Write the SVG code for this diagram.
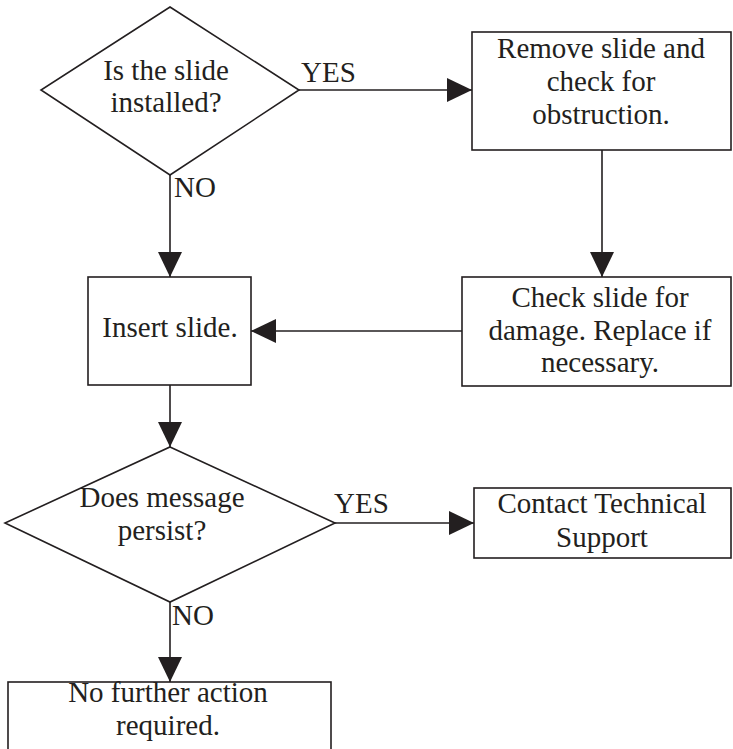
<svg xmlns="http://www.w3.org/2000/svg" width="733" height="749" viewBox="0 0 733 749">
<style>
.shape{fill:#fff;stroke:#231f20;stroke-width:1.6}
.conn{fill:none;stroke:#231f20;stroke-width:1.6}
text{font-family:"Liberation Serif","Times New Roman",serif;font-size:29px;fill:#231f20}
.c{text-anchor:middle}
</style>
<defs>
<marker id="arr" viewBox="0 0 25 24" refX="25" refY="12" markerWidth="25" markerHeight="24" markerUnits="userSpaceOnUse" orient="auto">
<path d="M0,0 L25,12 L0,24 Z" fill="#231f20"/>
</marker>
</defs>
<rect width="733" height="749" fill="#fff"/>
<g id="connectors">
<line class="conn" x1="299" y1="90" x2="472" y2="90" marker-end="url(#arr)"/>
<line class="conn" x1="170" y1="175" x2="170" y2="277" marker-end="url(#arr)"/>
<line class="conn" x1="602" y1="150" x2="602" y2="277" marker-end="url(#arr)"/>
<line class="conn" x1="462" y1="331" x2="251" y2="331" marker-end="url(#arr)"/>
<line class="conn" x1="170" y1="385" x2="170" y2="447" marker-end="url(#arr)"/>
<line class="conn" x1="335" y1="523" x2="474" y2="523" marker-end="url(#arr)"/>
<line class="conn" x1="170" y1="602" x2="170" y2="682" marker-end="url(#arr)"/>
<text x="301" y="82">YES</text>
<text x="174" y="197">NO</text>
<text x="334" y="513">YES</text>
<text x="172" y="625">NO</text>
</g>
<g id="q1">
<polygon class="shape" points="170,7 299,90 170,175 41,90"/>
<text class="c" x="166" y="80">Is the slide</text>
<text class="c" x="166" y="112">installed?</text>
</g>
<g id="remove">
<rect class="shape" x="472" y="32" width="259" height="118"/>
<text class="c" x="601" y="58">Remove slide and</text>
<text class="c" x="601" y="91">check for</text>
<text class="c" x="601" y="124">obstruction.</text>
</g>
<g id="check">
<rect class="shape" x="462" y="277" width="269" height="109"/>
<text class="c" x="600" y="307">Check slide for</text>
<text class="c" x="600" y="340">damage. Replace if</text>
<text class="c" x="600" y="372">necessary.</text>
</g>
<g id="insert">
<rect class="shape" x="88" y="277" width="163" height="108"/>
<text class="c" x="170" y="337">Insert slide.</text>
</g>
<g id="q2">
<polygon class="shape" points="170,447 335,523 170,602 5,523"/>
<text class="c" x="162" y="507">Does message</text>
<text class="c" x="162" y="540">persist?</text>
</g>
<g id="contact">
<rect class="shape" x="474" y="488" width="257" height="70"/>
<text class="c" x="602" y="513">Contact Technical</text>
<text class="c" x="602" y="547">Support</text>
</g>
<g id="nofurther">
<rect class="shape" x="8" y="682" width="323" height="90"/>
<text class="c" x="168" y="702">No further action</text>
<text class="c" x="168" y="735">required.</text>
</g>
</svg>
